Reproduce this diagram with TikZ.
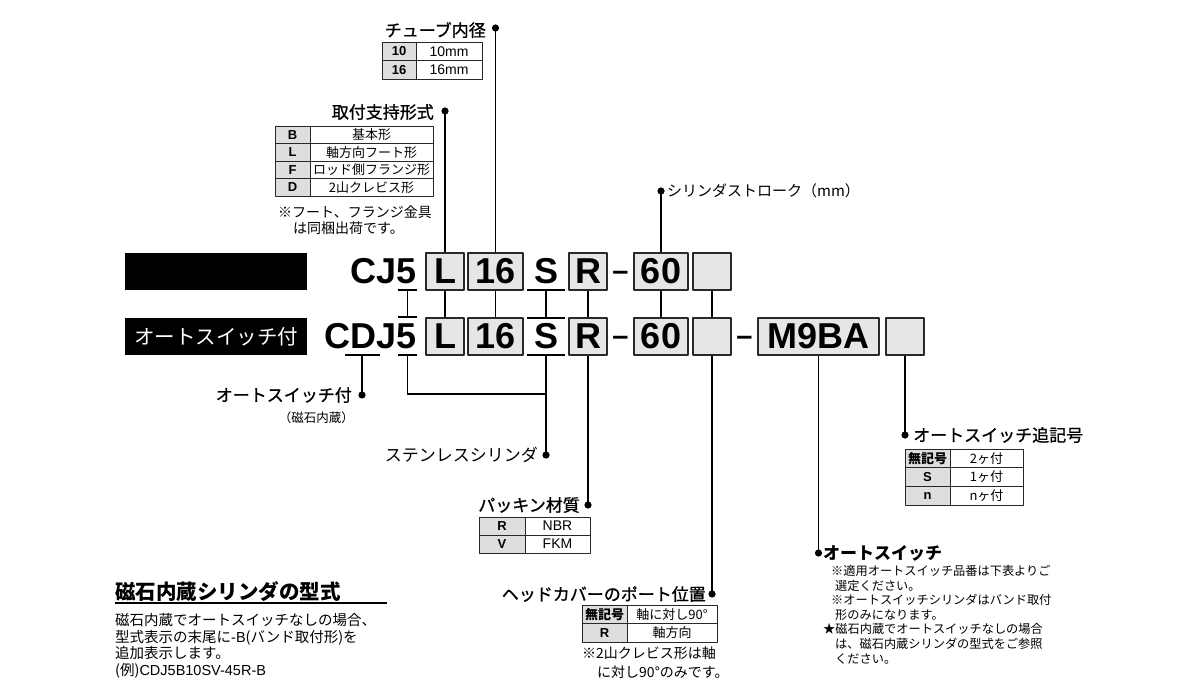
\documentclass[tikz,border=0pt]{standalone}
\usepackage{fontspec}
\setmainfont{Liberation Sans}
\newfontfamily\jp{Noto Sans CJK JP}
\newfontfamily\jpm[FakeBold=1]{Noto Sans CJK JP}
\newcommand\codefont{\fontsize{36}{36}\selectfont\bfseries}
\definecolor{boxgray}{RGB}{230,230,230}
\definecolor{keygray}{RGB}{222,222,222}
\definecolor{edgegray}{RGB}{40,40,40}

\begin{document}
\begin{tikzpicture}[x=1pt, y=-1pt, line join=round]
  \useasboundingbox (0,0) rectangle (1198,700);

  % Estilos
  \tikzset{
    lead/.style={line width=1.6pt},
    codebox/.style={draw=edgegray, line width=1.4pt, fill=boxgray, minimum height=37pt, inner sep=0pt, font=\codefont},
    codetext/.style={inner sep=0pt, font=\codefont},
    dashtext/.style={inner sep=0pt, anchor=base, font=\fontsize{29}{29}\selectfont\bfseries},
    bar/.style={fill=black, minimum width=182pt, minimum height=37pt, inner sep=0pt},
    cell/.style={draw=edgegray, line width=0.9pt},
    keytext/.style={inner sep=0pt, font=\fontsize{13}{13}\selectfont\bfseries},
    valtext/.style={inner sep=0pt, font=\fontsize{14}{14}\selectfont},
    tag/.style={inner sep=0pt, font=\jp\fontsize{17}{17}\selectfont},
    note/.style={inner sep=0pt, anchor=west, font=\jp\fontsize{14}{14}\selectfont}
  }

  % Fila superior: CJ5
  \node[bar] (plainbar) at (216,271.5) {};
  \node[codetext, anchor=east] (cj) at (417,271.5) {CJ5};
  \node[codebox, minimum width=38pt] (L1) at (445,271.5) {L};
  \node[codebox, minimum width=55pt] (bore1) at (495.5,271.5) {16};
  \node[codetext] (S1) at (546,271.5) {S};
  \node[codebox, minimum width=38pt] (R1) at (588,271.5) {R};
  \node[dashtext] (dash1) at (620.5,280) {–};
  \node[codebox, minimum width=54pt] (st1) at (661,271.5) {60};
  \node[codebox, minimum width=38pt] (blank1) at (712,271.5) {};

  % Fila inferior: CDJ5 (con autoswitch)
  \node[bar, text=white, font=\jp\fontsize{20.5}{20.5}\selectfont] (autobar) at (216,336.5) {オートスイッチ付};
  \node[codetext, anchor=east] (cdj) at (417,336.5) {CDJ5};
  \node[codebox, minimum width=38pt] (L2) at (445,336.5) {L};
  \node[codebox, minimum width=55pt] (bore2) at (495.5,336.5) {16};
  \node[codetext] (S2) at (546,336.5) {S};
  \node[codebox, minimum width=38pt] (R2) at (588,336.5) {R};
  \node[dashtext] (dash2) at (620.5,345) {–};
  \node[codebox, minimum width=54pt] (st2) at (661,336.5) {60};
  \node[codebox, minimum width=38pt] (blank2) at (712,336.5) {};
  \node[dashtext] (dash3) at (744.5,345) {–};
  \node[codebox, minimum width=121pt] (sw) at (818.5,336.5) {M9BA};
  \node[codebox, minimum width=38pt] (blank3) at (905,336.5) {};

  % Subrayados y uniones entre filas
  \draw[lead] (398,290) -- (417,290) (407.5,290) -- (407.5,317) (398,317) -- (417,317); % 5
  \draw[lead] (527,290) -- (565,290) (546,290) -- (546,318) (527,318) -- (565,318); % S
  \draw[lead] (345,355) -- (380,355) (398,355) -- (417,355) (527,355) -- (565,355);
  \draw[lead] (L1) -- (L2);
  \draw[lead] (bore1) -- (bore2);
  \draw[lead] (R1) -- (R2);
  \draw[lead] (st1) -- (st2);
  \draw[lead] (blank1) -- (blank2);

  % Puntos de llamada
  \coordinate (boredot) at (495.5,28);
  \coordinate (mountdot) at (445,111);
  \coordinate (strokedot) at (661,191);
  \coordinate (magdot) at (362,395);
  \coordinate (susdot) at (546,455);
  \coordinate (packdot) at (588,505);
  \coordinate (portdot) at (712,594);
  \coordinate (swdot) at (818.5,553);
  \coordinate (sfxdot) at (905,435);

  \draw[lead] (boredot) -- (bore1);
  \draw[lead] (mountdot) -- (L1);
  \draw[lead] (strokedot) -- (st1);
  \draw[lead] (362,355) -- (magdot);
  \draw[lead] (546,355) -- (susdot);
  \draw[lead] (407.5,355) -- (407.5,394) -- (546,394);
  \draw[lead] (R2) -- (packdot);
  \draw[lead] (blank2) -- (portdot);
  \draw[lead] (sw) -- (swdot);
  \draw[lead] (blank3) -- (sfxdot);
  \foreach \p in {boredot, mountdot, strokedot, magdot, susdot, packdot, portdot, swdot, sfxdot}
    \fill (\p) circle (3.6pt);

  % Etiquetas
  \node[tag, anchor=east] (borelbl) at (486,30) {\jpm チューブ内径};
  \node[tag, anchor=east] (mountlbl) at (434,112) {\jpm 取付支持形式};
  \node[tag, anchor=west, font=\jp\fontsize{15}{15}\selectfont] (strokelbl) at (667,191) {シリンダストローク（mm）};
  \node[tag, anchor=east] (maglbl) at (352,395) {\jpm オートスイッチ付};
  \node[tag, anchor=east, font=\jp\fontsize{12.5}{12.5}\selectfont] (magnote) at (354,418) {（磁石内蔵）};
  \node[tag, anchor=east] (suslbl) at (538,455) {ステンレスシリンダ};
  \node[tag, anchor=east] (packlbl) at (580,505) {\jpm パッキン材質};
  \node[tag, anchor=east] (portlbl) at (706,594) {\jpm ヘッドカバーのポート位置};
  \node[tag, anchor=west] (sfxlbl) at (913,435) {\jpm オートスイッチ追記号};
  \node[tag, anchor=west] (swlbl) at (823,553) {\bfseries オートスイッチ};

  % Tabla: チューブ内径
  \foreach \k/\v [count=\i] in {10/10mm, 16/16mm} {
    \draw[cell, fill=keygray] (382,{42+18.5*(\i-1)}) rectangle (416,{42+18.5*\i});
    \draw[cell] (416,{42+18.5*(\i-1)}) rectangle (482,{42+18.5*\i});
    \node[keytext] (borek\i) at (399,{32.75+18.5*\i}) {\k};
    \node[valtext] (borev\i) at (449,{32.75+18.5*\i}) {\v};
  }

  % Tabla: 取付支持形式
  \foreach \k/\v [count=\i] in {B/基本形, L/軸方向フート形, F/ロッド側フランジ形, D/2山クレビス形} {
    \draw[cell, fill=keygray] (275,{126+17.5*(\i-1)}) rectangle (310,{126+17.5*\i});
    \draw[cell] (310,{126+17.5*(\i-1)}) rectangle (433,{126+17.5*\i});
    \node[keytext] (mountk\i) at (292.5,{117.25+17.5*\i}) {\k};
    \node[valtext, font=\jp\fontsize{13}{13}\selectfont] (mountv\i) at (371.5,{117.25+17.5*\i}) {\v};
  }
  \node[note] (mountnote1) at (278,212) {※フート、フランジ金具};
  \node[note] (mountnote2) at (293,228) {は同梱出荷です。};

  % Tabla: パッキン材質
  \foreach \k/\v [count=\i] in {R/NBR, V/FKM} {
    \draw[cell, fill=keygray] (479,{517+18*(\i-1)}) rectangle (525,{517+18*\i});
    \draw[cell] (525,{517+18*(\i-1)}) rectangle (590,{517+18*\i});
    \node[keytext] (packk\i) at (502,{508+18*\i}) {\k};
    \node[valtext] (packv\i) at (557.5,{508+18*\i}) {\v};
  }

  % Tabla: ヘッドカバーのポート位置
  \foreach \k/\v [count=\i] in {{\jp 無記号}/{\jp 軸に対し90°}, R/{\jp 軸方向}} {
    \draw[cell, fill=keygray] (582,{605+18.5*(\i-1)}) rectangle (627,{605+18.5*\i});
    \draw[cell] (627,{605+18.5*(\i-1)}) rectangle (717,{605+18.5*\i});
    \node[keytext] (portk\i) at (604.5,{595.75+18.5*\i}) {\k};
    \node[valtext, font=\fontsize{13}{13}\selectfont] (portv\i) at (672,{595.75+18.5*\i}) {\v};
  }
  \node[note] (portnote1) at (582,653) {※2山クレビス形は軸};
  \node[note] (portnote2) at (597,672) {に対し90°のみです。};

  % Tabla: オートスイッチ追記号
  \foreach \k/\v [count=\i] in {{\jp 無記号}/2ヶ付, S/1ヶ付, n/nヶ付} {
    \draw[cell, fill=keygray] (905,{449+18.7*(\i-1)}) rectangle (950,{449+18.7*\i});
    \draw[cell] (950,{449+18.7*(\i-1)}) rectangle (1023,{449+18.7*\i});
    \node[keytext] (sfxk\i) at (927.5,{439.65+18.7*\i}) {\k};
    \node[valtext, font=\jp\fontsize{13}{13}\selectfont] (sfxv\i) at (986.5,{439.65+18.7*\i}) {\v};
  }

  % Notas de オートスイッチ
  \node[inner sep=0pt, anchor=north west, align=left, font=\jp\fontsize{12.2}{14.6}\selectfont] (swnote) at (823,565)
    {\hspace*{8pt}※適用オートスイッチ品番は下表よりご\\\hspace*{12pt}選定ください。\\\hspace*{8pt}※オートスイッチシリンダはバンド取付\\\hspace*{12pt}形のみになります。\\★磁石内蔵でオートスイッチなしの場合\\\hspace*{12pt}は、磁石内蔵シリンダの型式をご参照\\\hspace*{12pt}ください。};

  % 磁石内蔵シリンダの型式
  \node[inner sep=0pt, anchor=west, font=\jp\bfseries\fontsize{20.5}{20.5}\selectfont] (magtitle) at (115,592) {磁石内蔵シリンダの型式};
  \draw[line width=1.4pt] (115,603) -- (387,603);
  \node[inner sep=0pt, anchor=north west, align=left, font=\jp\fontsize{14.5}{16.7}\selectfont] (magbody) at (115,613)
    {磁石内蔵でオートスイッチなしの場合、\\型式表示の末尾に{\rmfamily -B}(バンド取付形)を\\追加表示します。\\(例){\rmfamily CDJ5B10SV-45R-B}};

\end{tikzpicture}
\end{document}
